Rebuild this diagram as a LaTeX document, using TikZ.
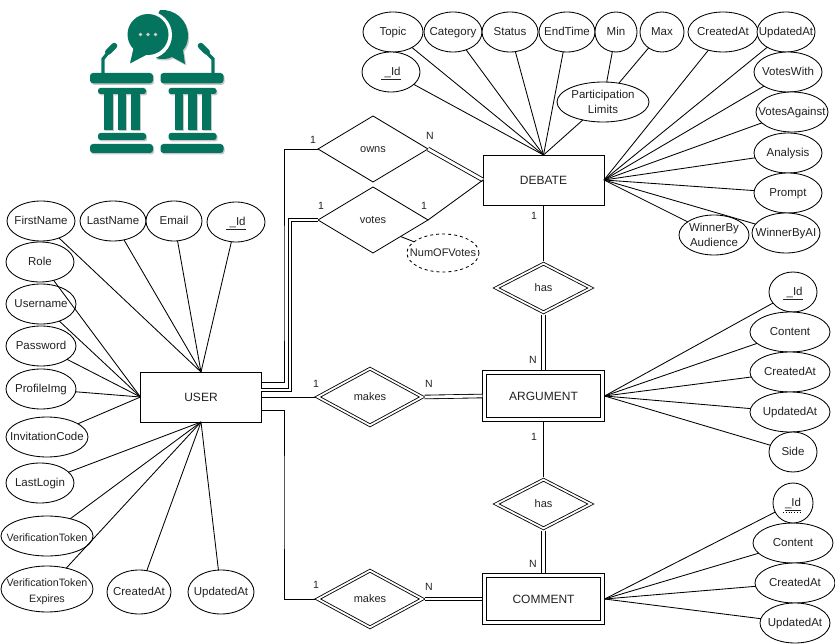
\documentclass[tikz,border=0pt]{standalone}
\usepackage{fontspec}
\setmainfont{Liberation Sans}
\usetikzlibrary{shapes.geometric}
\definecolor{logoteal}{HTML}{04745F}
\definecolor{ink}{HTML}{000000}
\definecolor{txt}{HTML}{222222}
\tikzset{
  attr/.style={ellipse,draw=ink,fill=white,line width=.85pt,inner sep=0pt,outer sep=0pt},
  weakline/.style={ink,line width=.85pt},
  dbl/.style={draw=ink,line width=.85pt,double=white,double distance=2.8pt},
  ent/.style={rectangle,draw=ink,fill=white,line width=.85pt,minimum width=121pt,minimum height=50pt,outer sep=0pt,font=\fontsize{12}{14}\selectfont,text=txt},
  went/.style={ent,dbl,minimum width=118pt,minimum height=47pt,double distance=2.6pt,outer sep=2.1pt},
  rel/.style={diamond,draw=ink,fill=white,line width=.85pt,inner sep=0pt,outer sep=0pt},
  wrel/.style={rel,dbl,double distance=1.8pt,outer sep=1.7pt},
  lab/.style={inner sep=0pt,text=txt,align=center,yshift=-1pt,font=\fontsize{11.5}{14.4}\selectfont,
    execute at begin node={\vphantom{Ag}},execute at end node={\vphantom{Ag}}},
  smalllab/.style={lab,font=\fontsize{11}{13}\selectfont},
  tinylab/.style={lab,yshift=-1.5pt,font=\fontsize{10.7}{16}\selectfont},
  card/.style={inner sep=0pt,text=txt,font=\fontsize{10.5}{12}\selectfont},
}
% name, x, y, width, height, text style, text
\newcommand{\attrnode}[7]{%
  \node[attr,minimum width=#4pt,minimum height=#5pt] (#1) at (#2,#3) {};
  \node[#6] (#1t) at (#1.center) {#7};
}
\newcommand{\relnode}[7]{%
  \node[#6,minimum width=#4pt,minimum height=#5pt] (#1) at (#2,#3) {};
  \node[smalllab] (#1t) at (#1.center) {#7};
}
\newcommand{\podium}[2]{%
  \begin{scope}[shift={(#1,0)}]
    \fill[#2,rounded corners=3pt] (0,73) rectangle (63,83.3);
    \fill[#2,rounded corners=2.5pt] (8,88) rectangle (56,94);
    \fill[#2] (14,90) rectangle (22.5,130);
    \fill[#2] (27.5,88) rectangle (36,130);
    \fill[#2] (41,90) rectangle (50,130);
    \fill[#2,rounded corners=2.5pt] (8,133) rectangle (56,140);
    \fill[#2,rounded corners=3pt] (0,144) rectangle (63,153);
  \end{scope}
}
\begin{document}
\begin{tikzpicture}[x=1pt,y=-1pt]
\useasboundingbox (0,0) rectangle (835,644);
% logo
\begin{scope}[shift={(1.2,1.5)}]
  \podium{90}{black!22}
  \podium{160.5}{black!22}
  \fill[black!22] (160,10) .. controls (175,9) and (188,20) .. (188,36) .. controls (188,42) and (186,47) .. (183,50) -- (185,64) -- (172,57) .. controls (168,59) and (162,60) .. (156,58) -- (150,30) -- cycle;
\end{scope}
\podium{90}{logoteal}
\podium{160.5}{logoteal}
\draw[logoteal,line width=3.2pt] (103,74) -- (103,59) -- (107,54);
\draw[logoteal,line width=6pt,line cap=round] (108,52) -- (114.3,45.8);
\draw[logoteal,line width=3.2pt] (213,74) -- (213,59) -- (208,54);
\draw[logoteal,line width=6pt,line cap=round] (207,52) -- (200.7,45.8);
\fill[logoteal] (160,10) .. controls (175,9) and (188,20) .. (188,36) .. controls (188,42) and (186,47) .. (183,50) -- (185,64) -- (172,57) .. controls (168,59) and (162,60) .. (156,58) -- (150,30) -- cycle;
\fill[white] (148,35) circle (24);
\fill[logoteal] (148,34.5) circle (20.5);
\fill[logoteal] (134,46) -- (130,63.5) -- (148,54) -- cycle;
\fill[black!20] (140.5,34.5) circle (1.9) (148,34.5) circle (1.9) (155.5,34.5) circle (1.9);
% DEBATE attributes
\attrnode{topic}{393}{32}{60}{40}{lab}{Topic}
\attrnode{category}{453}{32}{58}{40}{lab}{Category}
\attrnode{status}{510}{32}{56}{40}{lab}{Status}
\attrnode{endtime}{567}{32}{56}{40}{lab}{EndTime}
\attrnode{min}{616}{32}{42}{40}{lab}{Min}
\attrnode{max}{662}{32}{44}{40}{lab}{Max}
\attrnode{dcreated}{723}{32}{70}{40}{lab}{CreatedAt}
\attrnode{dupdated}{786}{32}{58}{40}{lab}{UpdatedAt}
\attrnode{did}{391}{72}{58}{40}{lab}{\underline{\ \_Id}}
\attrnode{limits}{603}{102}{92}{40}{lab}{Participation\\Limits}
\attrnode{voteswith}{788}{72}{68}{40}{lab}{VotesWith}
\attrnode{votesagainst}{792}{112}{72}{40}{lab}{VotesAgainst}
\attrnode{analysis}{788}{153}{68}{40}{lab}{Analysis}
\attrnode{prompt}{788}{193}{68}{40}{lab}{Prompt}
\attrnode{winnerai}{786}{233}{68}{40}{lab}{WinnerByAI}
\attrnode{winneraud}{714}{235}{70}{40}{lab}{WinnerBy\\Audience}
% USER attributes
\attrnode{firstname}{41}{221}{68}{40}{lab}{FirstName}
\attrnode{lastname}{113}{221}{66}{40}{lab}{LastName}
\attrnode{email}{174}{221}{56}{40}{lab}{Email}
\attrnode{uid}{236}{222}{58}{40}{lab}{\underline{\ \_Id}}
\attrnode{role}{40}{262}{68}{40}{lab}{Role}
\attrnode{username}{41}{304}{70}{40}{lab}{Username}
\attrnode{password}{41}{346}{70}{40}{lab}{Password}
\attrnode{profile}{41}{389}{70}{40}{lab}{ProfileImg}
\attrnode{invitation}{47}{437}{82}{40}{lab}{InvitationCode}
\attrnode{lastlogin}{40}{483}{68}{40}{lab}{LastLogin}
\attrnode{vtoken}{47}{536}{92}{40}{tinylab}{VerificationToken}
\attrnode{vexpires}{47}{589}{92}{46}{tinylab}{VerificationToken\\Expires}
\attrnode{ucreated}{139}{592}{64}{44}{lab}{CreatedAt}
\attrnode{uupdated}{221}{592}{66}{44}{lab}{UpdatedAt}
% ARGUMENT attributes
\attrnode{aid}{793}{292}{48}{40}{lab}{\underline{\ \_Id}}
\attrnode{acontent}{790}{332}{80}{40}{lab}{Content}
\attrnode{acreated}{790}{372}{80}{40}{lab}{CreatedAt}
\attrnode{aupdated}{790}{412}{80}{40}{lab}{UpdatedAt}
\attrnode{aside}{793}{452}{48}{40}{lab}{Side}
% COMMENT attributes
\attrnode{ccontent}{793}{543}{80}{40}{lab}{Content}
\attrnode{cid}{793}{503}{40}{40}{lab}{\underline{\_Id}}
\attrnode{ccreated}{795}{583}{80}{40}{lab}{CreatedAt}
\attrnode{cupdated}{795}{623}{70}{40}{lab}{UpdatedAt}
% entities
\node[ent] (debate) at (543.5,180) {DEBATE};
\node[ent] (user) at (201,397) {USER};
\node[went] (argument) at (543.5,396) {ARGUMENT};
\node[went] (comment) at (543.5,599) {COMMENT};
% relations
\relnode{owns}{373}{149}{110}{66}{rel}{owns}
\relnode{votes}{373}{220}{110}{66}{rel}{votes}
\relnode{hasa}{543.5}{288}{96}{50}{wrel}{has}
\relnode{makesa}{370}{397}{106}{58}{wrel}{makes}
\relnode{hasc}{543.5}{504}{96}{50}{wrel}{has}
\relnode{makesc}{370}{599}{106}{58}{wrel}{makes}
\node[attr,dashed,minimum width=72pt,minimum height=38pt] (numvotes) at (443,253) {};
\node[smalllab] (numvotest) at (numvotes.center) {NumOFVotes};
% connectors: attributes
\foreach \a in {topic,category,status,endtime,did,limits}
  \draw[weakline] (\a) -- (debate.north);
\foreach \a in {dcreated,dupdated,voteswith,votesagainst,analysis,prompt,winnerai,winneraud}
  \draw[weakline] (\a) -- (debate.east);
\draw[weakline] (min) -- (limits);
\draw[weakline] (max) -- (limits);
\foreach \a in {firstname,lastname,email,uid}
  \draw[weakline] (\a) -- (user.north);
\foreach \a in {role,username,password,profile,invitation}
  \draw[weakline] (\a) -- (user.west);
\foreach \a in {lastlogin,vtoken,vexpires,ucreated,uupdated}
  \draw[weakline] (\a) -- (user.south);
\foreach \a in {aid,acontent,acreated,aupdated,aside}
  \draw[weakline] (\a) -- (argument.east);
\foreach \a in {cid,ccontent,ccreated,cupdated}
  \draw[weakline] (\a) -- (comment.east);
\draw[ink,dotted,line width=.8pt] (783,512) -- (800,512);
% connectors: relations
\coordinate (uowns) at (261,382);
\coordinate (uvotes) at (261,390);
\coordinate (ucomment) at (261,410);
\coordinate (bendowns) at (284,300);
\coordinate (bendvotes) at (290,300);
\coordinate (bendcomment) at (284,500);
\draw[weakline] (owns.west) -| (bendowns) |- (uowns);
\draw[dbl] (votes.west) -| (bendvotes) |- (uvotes);
\draw[weakline] (user.east) -- (makesa.west);
\draw[weakline] (ucomment) -| (bendcomment) |- (makesc.west);
\draw[dbl] (owns.east) -- (debate.west);
\draw[weakline] (votes.east) -- (debate.west);
\draw[weakline] (votes.south east) -- (numvotes);
\draw[weakline] (debate.south) -- (hasa.north);
\draw[dbl] (hasa.south) -- (argument.north);
\draw[dbl] (makesa.east) -- (argument.west);
\draw[weakline] (argument.south) -- (hasc.north);
\draw[dbl] (hasc.south) -- (comment.north);
\draw[dbl] (makesc.east) -- (comment.west);
% cardinalities
\node[card] (c1) at (313,140) {1};
\node[card] (c2) at (430,136) {N};
\node[card] (c3) at (321,206) {1};
\node[card] (c4) at (424,206) {1};
\node[card] (c5) at (316,384) {1};
\node[card] (c6) at (429,384) {N};
\node[card] (c7) at (534,216) {1};
\node[card] (c8) at (533,360) {N};
\node[card] (c9) at (534,437) {1};
\node[card] (c10) at (533,564) {N};
\node[card] (c11) at (316,585) {1};
\node[card] (c12) at (429,587) {N};
\end{tikzpicture}
\end{document}
